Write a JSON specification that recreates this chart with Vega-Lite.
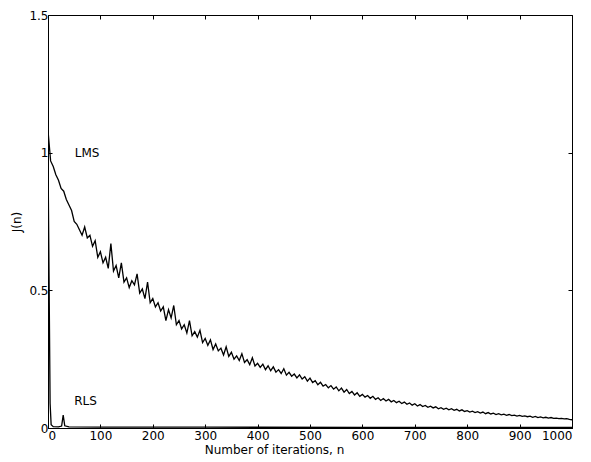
{
  "$schema": "https://vega.github.io/schema/vega-lite/v6.json",
  "width": 524,
  "height": 413,
  "autosize": {"type": "none"},
  "padding": {"left": 48, "top": 15, "right": 19, "bottom": 34},
  "background": "white",
  "config": {
    "font": "DejaVu Sans",
    "view": {"stroke": "black", "strokeWidth": 1},
    "axis": {"grid": false, "domainColor": "black", "tickColor": "black", "labelColor": "black", "titleColor": "black", "labelFont": "DejaVu Sans", "titleFont": "DejaVu Sans", "labelFontSize": 12, "titleFontSize": 12, "titleFontWeight": "normal", "tickSize": -4}
  },
  "datasets": {
    "lms": [
      {"n":0,"J":1.08},{"n":5,"J":0.97},{"n":10,"J":0.95},{"n":15,"J":0.92},{"n":20,"J":0.9},{"n":25,"J":0.87},{"n":30,"J":0.86},{"n":35,"J":0.83},{"n":40,"J":0.81},{"n":45,"J":0.79},
      {"n":50,"J":0.75},{"n":55,"J":0.74},{"n":60,"J":0.72},{"n":65,"J":0.7},{"n":70,"J":0.73},{"n":75,"J":0.69},{"n":80,"J":0.7},{"n":85,"J":0.66},{"n":90,"J":0.68},{"n":95,"J":0.62},
      {"n":100,"J":0.64},{"n":105,"J":0.6},{"n":110,"J":0.62},{"n":115,"J":0.58},{"n":120,"J":0.67},{"n":125,"J":0.57},{"n":130,"J":0.59},{"n":135,"J":0.545},{"n":140,"J":0.6},{"n":145,"J":0.53},
      {"n":150,"J":0.545},{"n":155,"J":0.51},{"n":160,"J":0.535},{"n":165,"J":0.52},{"n":170,"J":0.56},{"n":175,"J":0.49},{"n":180,"J":0.505},{"n":185,"J":0.47},{"n":190,"J":0.53},{"n":195,"J":0.455},
      {"n":200,"J":0.47},{"n":205,"J":0.44},{"n":210,"J":0.455},{"n":215,"J":0.425},{"n":220,"J":0.44},{"n":225,"J":0.39},{"n":230,"J":0.43},{"n":235,"J":0.4},{"n":240,"J":0.445},{"n":245,"J":0.375},
      {"n":250,"J":0.39},{"n":255,"J":0.36},{"n":260,"J":0.375},{"n":265,"J":0.345},{"n":270,"J":0.39},{"n":275,"J":0.335},{"n":280,"J":0.35},{"n":285,"J":0.33},{"n":290,"J":0.355},{"n":295,"J":0.31},
      {"n":300,"J":0.325},{"n":305,"J":0.3},{"n":310,"J":0.32},{"n":315,"J":0.285},{"n":320,"J":0.305},{"n":325,"J":0.28},{"n":330,"J":0.29},{"n":335,"J":0.265},{"n":340,"J":0.295},{"n":345,"J":0.26},
      {"n":350,"J":0.275},{"n":355,"J":0.25},{"n":360,"J":0.262},{"n":365,"J":0.245},{"n":370,"J":0.27},{"n":375,"J":0.238},{"n":380,"J":0.248},{"n":385,"J":0.23},{"n":390,"J":0.255},{"n":395,"J":0.225},
      {"n":400,"J":0.235},{"n":405,"J":0.22},{"n":410,"J":0.232},{"n":415,"J":0.212},{"n":420,"J":0.226},{"n":425,"J":0.208},{"n":430,"J":0.222},{"n":435,"J":0.203},{"n":440,"J":0.212},{"n":445,"J":0.198},
      {"n":450,"J":0.215},{"n":455,"J":0.192},{"n":460,"J":0.202},{"n":465,"J":0.188},{"n":470,"J":0.196},{"n":475,"J":0.182},{"n":480,"J":0.193},{"n":485,"J":0.178},{"n":490,"J":0.186},{"n":495,"J":0.17},
      {"n":500,"J":0.181},{"n":505,"J":0.165},{"n":510,"J":0.172},{"n":515,"J":0.157},{"n":520,"J":0.166},{"n":525,"J":0.152},{"n":530,"J":0.158},{"n":535,"J":0.146},{"n":540,"J":0.154},{"n":545,"J":0.141},
      {"n":550,"J":0.149},{"n":555,"J":0.135},{"n":560,"J":0.145},{"n":565,"J":0.13},{"n":570,"J":0.14},{"n":575,"J":0.125},{"n":580,"J":0.133},{"n":585,"J":0.12},{"n":590,"J":0.128},{"n":595,"J":0.115},
      {"n":600,"J":0.122},{"n":605,"J":0.112},{"n":610,"J":0.118},{"n":615,"J":0.108},{"n":620,"J":0.115},{"n":625,"J":0.104},{"n":630,"J":0.11},{"n":635,"J":0.1},{"n":640,"J":0.107},{"n":645,"J":0.098},
      {"n":650,"J":0.104},{"n":655,"J":0.095},{"n":660,"J":0.1},{"n":665,"J":0.092},{"n":670,"J":0.097},{"n":675,"J":0.089},{"n":680,"J":0.094},{"n":685,"J":0.086},{"n":690,"J":0.091},{"n":695,"J":0.083},
      {"n":700,"J":0.088},{"n":705,"J":0.08},{"n":710,"J":0.085},{"n":715,"J":0.078},{"n":720,"J":0.082},{"n":725,"J":0.075},{"n":730,"J":0.079},{"n":735,"J":0.073},{"n":740,"J":0.077},{"n":745,"J":0.07},
      {"n":750,"J":0.074},{"n":755,"J":0.068},{"n":760,"J":0.072},{"n":765,"J":0.066},{"n":770,"J":0.07},{"n":775,"J":0.064},{"n":780,"J":0.068},{"n":785,"J":0.062},{"n":790,"J":0.066},{"n":795,"J":0.06},
      {"n":800,"J":0.063},{"n":805,"J":0.058},{"n":810,"J":0.061},{"n":815,"J":0.056},{"n":820,"J":0.059},{"n":825,"J":0.054},{"n":830,"J":0.058},{"n":835,"J":0.052},{"n":840,"J":0.056},{"n":845,"J":0.051},
      {"n":850,"J":0.054},{"n":855,"J":0.049},{"n":860,"J":0.052},{"n":865,"J":0.048},{"n":870,"J":0.05},{"n":875,"J":0.046},{"n":880,"J":0.049},{"n":885,"J":0.045},{"n":890,"J":0.047},{"n":895,"J":0.043},
      {"n":900,"J":0.046},{"n":905,"J":0.042},{"n":910,"J":0.044},{"n":915,"J":0.041},{"n":920,"J":0.043},{"n":925,"J":0.039},{"n":930,"J":0.042},{"n":935,"J":0.038},{"n":940,"J":0.04},{"n":945,"J":0.037},
      {"n":950,"J":0.039},{"n":955,"J":0.036},{"n":960,"J":0.038},{"n":965,"J":0.035},{"n":970,"J":0.036},{"n":975,"J":0.034},{"n":980,"J":0.035},{"n":985,"J":0.033},{"n":990,"J":0.034},{"n":995,"J":0.031},
      {"n":1000,"J":0.03}
    ],
    "rls": [
      {"n":0,"J":1.0},{"n":2,"J":0.55},{"n":4,"J":0.09},{"n":6,"J":0.012},{"n":10,"J":0.005},{"n":20,"J":0.004},{"n":26,"J":0.007},{"n":29,"J":0.047},{"n":32,"J":0.008},{"n":40,"J":0.004},{"n":100,"J":0.003},{"n":300,"J":0.003},{"n":600,"J":0.002},{"n":1000,"J":0.002}
    ],
    "labels": [
      {"n":51,"J":1.0,"t":"LMS"},{"n":50,"J":0.098,"t":"RLS"}
    ]
  },
  "layer": [
    {
      "data": {"name": "lms"},
      "mark": {"type": "line", "color": "black", "strokeWidth": 1.3, "clip": true},
      "encoding": {
        "x": {"field": "n", "type": "quantitative", "scale": {"domain": [0, 1000], "nice": false}, "axis": {"values": [0,100,200,300,400,500,600,700,800,900,1000], "format": "d", "title": "Number of iterations, n", "labelPadding": 6, "titlePadding": 3, "titleX": 226}},
        "y": {"field": "J", "type": "quantitative", "scale": {"domain": [0, 1.5], "nice": false}, "axis": {"values": [0, 0.5, 1, 1.5], "labelExpr": "'' + datum.value", "title": "J(n)", "labelPadding": 4, "titlePadding": 5}}
      }
    },
    {
      "data": {"name": "rls"},
      "mark": {"type": "line", "color": "black", "strokeWidth": 1.3, "clip": true},
      "encoding": {
        "x": {"field": "n", "type": "quantitative", "axis": {"orient": "top", "values": [0,100,200,300,400,500,600,700,800,900,1000], "labels": false, "title": null, "domain": false}},
        "y": {"field": "J", "type": "quantitative", "axis": {"orient": "right", "values": [0, 0.5, 1, 1.5], "labels": false, "title": null, "domain": false}}
      }
    },
    {
      "data": {"name": "labels"},
      "mark": {"type": "text", "align": "left", "baseline": "middle", "fontSize": 12, "font": "DejaVu Sans", "color": "black"},
      "encoding": {
        "x": {"field": "n", "type": "quantitative", "axis": null},
        "y": {"field": "J", "type": "quantitative", "axis": null},
        "text": {"field": "t", "type": "nominal"}
      }
    }
  ],
  "resolve": {"axis": {"x": "independent", "y": "independent"}}
}
